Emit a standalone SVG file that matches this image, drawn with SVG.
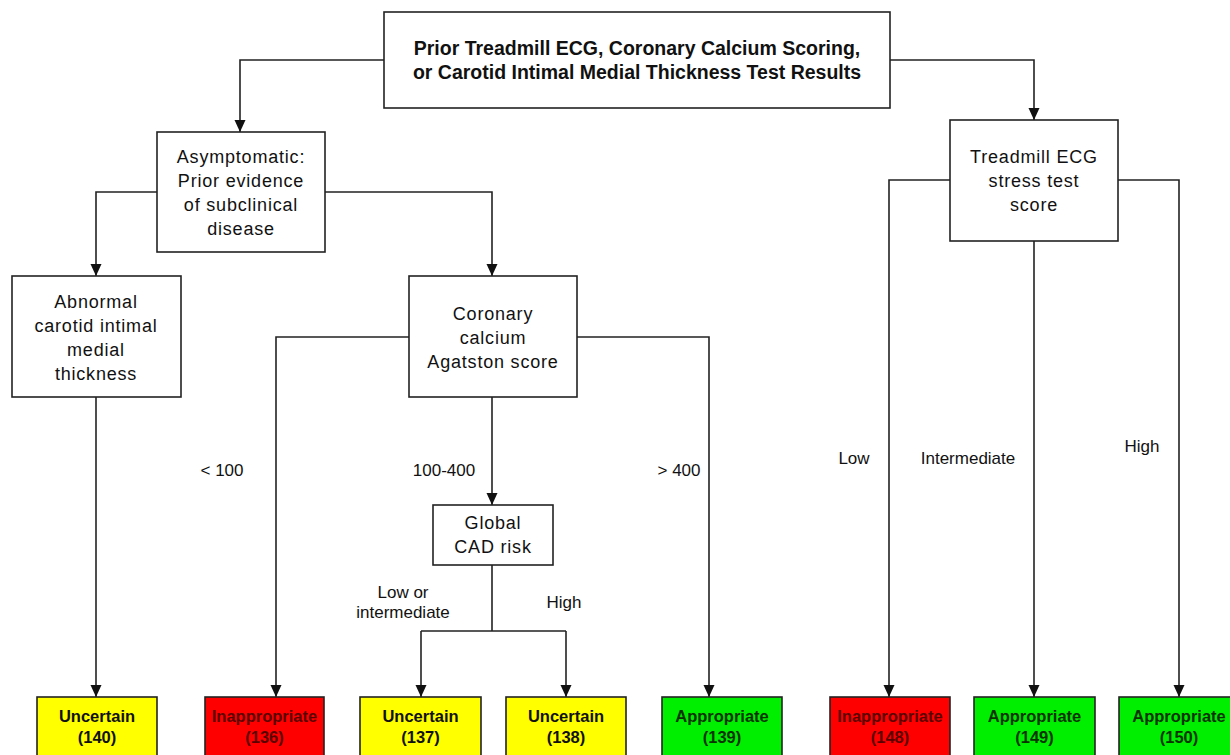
<svg xmlns="http://www.w3.org/2000/svg" width="1230" height="755" viewBox="0 0 1230 755">
<style>
.bg{fill:#ffffff}
.box{fill:#ffffff;stroke:#222;stroke-width:1.6}
.t{font-family:"Liberation Sans",Arial,sans-serif;font-size:18px;fill:#111;text-anchor:middle;letter-spacing:0.8px}
.tb{font-family:"Liberation Sans",Arial,sans-serif;font-size:19.5px;font-weight:bold;fill:#111;text-anchor:middle}
.lbl{font-family:"Liberation Sans",Arial,sans-serif;font-size:17px;fill:#111;text-anchor:middle}
.res{stroke:#222;stroke-width:1.6}
.y{fill:#ffff00}
.r{fill:#ff0000}
.g{fill:#00ee00}
.rt{font-family:"Liberation Sans",Arial,sans-serif;font-size:16.5px;font-weight:bold;text-anchor:middle;fill:#111}
.rt.dr{fill:#5a0000}
.rt.dg{fill:#0b3300}
.c{fill:none;stroke:#222;stroke-width:1.6}
.ca{fill:none;stroke:#222;stroke-width:1.6;marker-end:url(#ah)}
</style>
<defs>
<marker id="ah" markerUnits="userSpaceOnUse" markerWidth="12" markerHeight="12" refX="12" refY="5.5" orient="auto">
<path d="M0,0 L12,5.5 L0,11 z" fill="#111"/>
</marker>
</defs>
<rect class="bg" x="0" y="0" width="1230" height="755"/>

<g id="connectors">
<path class="ca" d="M384,60 H240 V132"/>
<path class="ca" d="M890,60 H1034 V120"/>
<path class="ca" d="M157,192 H96 V276"/>
<path class="ca" d="M325,192 H492 V276"/>
<path class="ca" d="M96,397 V697"/>
<path class="ca" d="M409,337 H276 V697"/>
<path class="ca" d="M577,337 H709 V697"/>
<path class="ca" d="M492,397 V505"/>
<path class="c" d="M492,565 V631 M421,631 H566"/>
<path class="ca" d="M421,631 V697"/>
<path class="ca" d="M566,631 V697"/>
<path class="ca" d="M950,180 H889 V697"/>
<path class="ca" d="M1118,180 H1179 V697"/>
<path class="ca" d="M1034,241 V697"/>
</g>

<g id="labels">
<text class="lbl" x="222" y="476">&lt; 100</text>
<text class="lbl" x="444" y="476">100-400</text>
<text class="lbl" x="679" y="476">&gt; 400</text>
<text class="lbl" x="403" y="598">Low or</text>
<text class="lbl" x="403" y="618">intermediate</text>
<text class="lbl" x="564" y="608">High</text>
<text class="lbl" x="854" y="464">Low</text>
<text class="lbl" x="968" y="464">Intermediate</text>
<text class="lbl" x="1142" y="452">High</text>
</g>

<g id="n-top">
<rect class="box" x="384" y="12" width="506" height="96"/>
<text class="tb" x="637" y="55">Prior Treadmill ECG, Coronary Calcium Scoring,</text>
<text class="tb" x="637" y="79">or Carotid Intimal Medial Thickness Test Results</text>
</g>

<g id="n-asym">
<rect class="box" x="157" y="132" width="168" height="120"/>
<text class="t" x="241" y="163">Asymptomatic:</text>
<text class="t" x="241" y="187">Prior evidence</text>
<text class="t" x="241" y="211">of subclinical</text>
<text class="t" x="241" y="235">disease</text>
</g>

<g id="n-abnormal">
<rect class="box" x="12" y="276" width="169" height="121"/>
<text class="t" x="96" y="308">Abnormal</text>
<text class="t" x="96" y="332">carotid intimal</text>
<text class="t" x="96" y="356">medial</text>
<text class="t" x="96" y="380">thickness</text>
</g>

<g id="n-coronary">
<rect class="box" x="409" y="276" width="168" height="121"/>
<text class="t" x="493" y="320">Coronary</text>
<text class="t" x="493" y="344">calcium</text>
<text class="t" x="493" y="368">Agatston  score</text>
</g>

<g id="n-global">
<rect class="box" x="433" y="505" width="120" height="60"/>
<text class="t" x="493" y="529">Global</text>
<text class="t" x="493" y="553">CAD risk</text>
</g>

<g id="n-treadmill">
<rect class="box" x="950" y="120" width="168" height="121"/>
<text class="t" x="1034" y="163">Treadmill ECG</text>
<text class="t" x="1034" y="187">stress test</text>
<text class="t" x="1034" y="211">score</text>
</g>

<g id="r140">
<rect class="res y" x="37" y="697" width="120" height="70"/>
<text class="rt" x="97" y="722">Uncertain</text>
<text class="rt" x="97" y="743">(140)</text>
</g>
<g id="r136">
<rect class="res r" x="205" y="697" width="119" height="70"/>
<text class="rt dr" x="264.5" y="722">Inappropriate</text>
<text class="rt dr" x="264.5" y="743">(136)</text>
</g>
<g id="r137">
<rect class="res y" x="360" y="697" width="121" height="70"/>
<text class="rt" x="420.5" y="722">Uncertain</text>
<text class="rt" x="420.5" y="743">(137)</text>
</g>
<g id="r138">
<rect class="res y" x="506" y="697" width="120" height="70"/>
<text class="rt" x="566" y="722">Uncertain</text>
<text class="rt" x="566" y="743">(138)</text>
</g>
<g id="r139">
<rect class="res g" x="662" y="697" width="120" height="70"/>
<text class="rt dg" x="722" y="722">Appropriate</text>
<text class="rt dg" x="722" y="743">(139)</text>
</g>
<g id="r148">
<rect class="res r" x="830" y="697" width="120" height="70"/>
<text class="rt dr" x="890" y="722">Inappropriate</text>
<text class="rt dr" x="890" y="743">(148)</text>
</g>
<g id="r149">
<rect class="res g" x="974" y="697" width="121" height="70"/>
<text class="rt dg" x="1034.5" y="722">Appropriate</text>
<text class="rt dg" x="1034.5" y="743">(149)</text>
</g>
<g id="r150">
<rect class="res g" x="1119" y="697" width="122" height="70"/>
<text class="rt dg" x="1179" y="722">Appropriate</text>
<text class="rt dg" x="1179" y="743">(150)</text>
</g>
</svg>
